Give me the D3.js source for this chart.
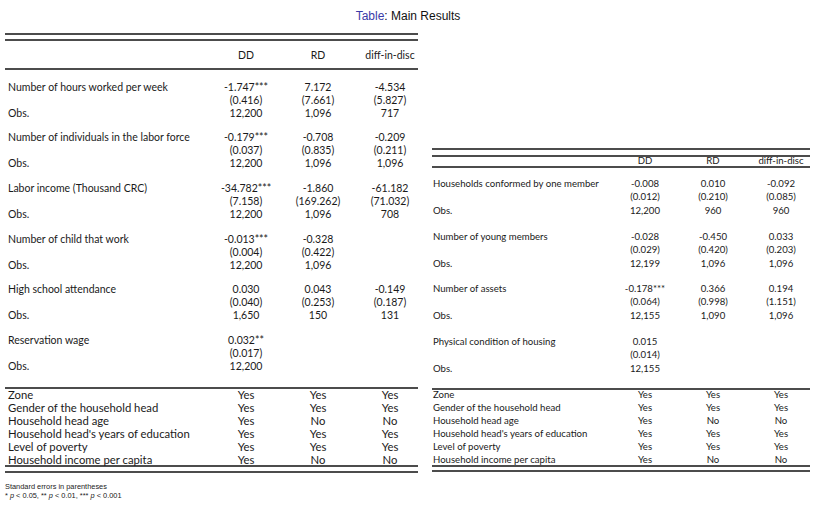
<!DOCTYPE html>
<html>
<head>
<meta charset="utf-8">
<script src="https://cdn.jsdelivr.net/npm/d3@7"></script>
<style>
  body { margin: 0; background: #fff; }
  svg { display: block; }
</style>
</head>
<body>
<script>
// column names
var columns = ["DD", "RD", "diff-in-disc"];

// left table: labour outcomes
var leftRows = ["Number of hours worked per week", "Number of individuals in the labor force",
  "Labor income (Thousand CRC)", "Number of child that work", "High school attendance", "Reservation wage"];
var leftCoef = [[-1.747, 7.172, -4.534], [-0.179, -0.708, -0.209], [-34.782, -1.860, -61.182],
  [-0.013, -0.328, null], [0.030, 0.043, -0.149], [0.032, null, null]];
var leftStars = [["***", "", ""], ["***", "", ""], ["***", "", ""], ["***", "", ""], ["", "", ""], ["**", "", ""]];
var leftSE = [[0.416, 7.661, 5.827], [0.037, 0.835, 0.211], [7.158, 169.262, 71.032],
  [0.004, 0.422, null], [0.040, 0.253, 0.187], [0.017, null, null]];
var leftObs = [[12200, 1096, 717], [12200, 1096, 1096], [12200, 1096, 708],
  [12200, 1096, null], [1650, 150, 131], [12200, null, null]];

// right table: household outcomes
var rightRows = ["Households conformed by one member", "Number of young members",
  "Number of assets", "Physical condition of housing"];
var rightCoef = [[-0.008, 0.010, -0.092], [-0.028, -0.450, 0.033], [-0.178, 0.366, 0.194], [0.015, null, null]];
var rightStars = [["", "", ""], ["", "", ""], ["***", "", ""], ["", "", ""]];
var rightSE = [[0.012, 0.210, 0.085], [0.029, 0.420, 0.203], [0.064, 0.998, 1.151], [0.014, null, null]];
var rightObs = [[12200, 960, 960], [12199, 1096, 1096], [12155, 1090, 1096], [12155, null, null]];

// controls (same in both tables)
var controls = ["Zone", "Gender of the household head", "Household head age",
  "Household head's years of education", "Level of poverty", "Household income per capita"];
var controlYes = [["Yes", "Yes", "Yes"], ["Yes", "Yes", "Yes"], ["Yes", "No", "No"],
  ["Yes", "Yes", "Yes"], ["Yes", "Yes", "Yes"], ["Yes", "No", "No"]];

var notes = ["Standard errors in parentheses"];

var W = 824, H = 512;
var svg = d3.select("body").append("svg").attr("width", W).attr("height", H);

var fmt3 = d3.format(".3f"), fmtN = d3.format(",");
function coefText(v, s) { return v == null ? "" : fmt3(v).replace("−", "-") + s; }
function seText(v) { return v == null ? "" : "(" + fmt3(v) + ")"; }
function obsText(v) { return v == null ? "" : fmtN(v); }

// title
var title = svg.append("text").attr("x", 408).attr("y", 20).attr("text-anchor", "middle")
  .style("font-family", "Liberation Sans, Arial").style("font-size", "12px");
title.append("tspan").attr("fill", "#3a3aa8").text("Table");
title.append("tspan").attr("fill", "#111").text(": Main Results");

function drawTable(o) {
  var g = svg.append("g").style("font-family", "Lato, Calibri, sans-serif").attr("fill", "#1a1a1a");
  var x = d3.scalePoint().domain(columns).range(o.colRange);
  var y = d3.scaleLinear().domain([0, 1]).range([o.firstRow, o.firstRow + o.rowStep]);
  var yc = d3.scaleLinear().domain([0, 1]).range([o.ctrlTop, o.ctrlTop + o.ctrlStep]);
  // centre of a line of text -> alphabetic baseline
  function bl(yy, fs) { return yy + fs * 0.36; }

  function hline(yy) {
    g.append("line").attr("x1", o.x0).attr("x2", o.x1).attr("y1", yy).attr("y2", yy)
      .attr("stroke", "#111").attr("stroke-width", 1.4);
  }
  o.lines.forEach(hline);

  // header
  g.selectAll("text.head").data(columns).enter().append("text").attr("class", "head")
    .attr("x", function(d) { return x(d); }).attr("y", bl(o.headY, o.fs))
    .attr("text-anchor", "middle")
    .style("font-size", o.fs + "px").text(function(d) { return d; });

  o.rows.forEach(function(name, i) {
    var yy = y(i);
    var row = g.append("g");
    row.append("text").attr("x", o.labelX).attr("y", bl(yy, o.fs))
      .style("font-size", o.fs + "px").text(name);
    row.append("text").attr("x", o.labelX).attr("y", bl(yy + o.obsOff, o.fs))
      .style("font-size", o.fs + "px").text("Obs.");
    columns.forEach(function(c, j) {
      var cells = [[coefText(o.coef[i][j], o.stars[i][j]), 0],
        [seText(o.se[i][j]), o.seOff], [obsText(o.obs[i][j]), o.obsOff]];
      cells.forEach(function(cell) {
        row.append("text").attr("x", x(c)).attr("y", bl(yy + cell[1], o.fs))
          .attr("text-anchor", "middle")
          .style("font-size", o.fs + "px").text(cell[0]);
      });
    });
  });

  controls.forEach(function(name, i) {
    g.append("text").attr("x", o.labelX).attr("y", bl(yc(i), o.cfs))
      .style("font-size", o.cfs + "px").text(name);
    columns.forEach(function(c, j) {
      g.append("text").attr("x", x(c)).attr("y", bl(yc(i), o.cfs)).attr("text-anchor", "middle")
        .style("font-size", o.cfs + "px").text(controlYes[i][j]);
    });
  });
}

drawTable({
  x0: 5, x1: 418, labelX: 8, colRange: [246, 390], fs: 10.5, cfs: 11.3,
  lines: [34, 40, 69, 388, 466, 472], headY: 55,
  firstRow: 87, rowStep: 50.6, seOff: 13, obsOff: 26,
  ctrlTop: 395, ctrlStep: 12.9,
  rows: leftRows, coef: leftCoef, stars: leftStars, se: leftSE, obs: leftObs
});

drawTable({
  x0: 432, x1: 810, labelX: 433, colRange: [645, 781], fs: 9.6, cfs: 9.6,
  lines: [149, 156, 167, 389, 466, 471], headY: 161,
  firstRow: 184, rowStep: 52.4, seOff: 13, obsOff: 27,
  ctrlTop: 395, ctrlStep: 13,
  rows: rightRows, coef: rightCoef, stars: rightStars, se: rightSE, obs: rightObs
});

// footnotes
var foot = svg.append("g").style("font-family", "Liberation Sans, Arial").style("font-size", "7.4px").attr("fill", "#222");
foot.append("text").attr("x", 5).attr("y", 489).text(notes[0]);
var f2 = foot.append("text").attr("x", 5).attr("y", 498);
[["* ", false], ["p", true], [" < 0.05, ** ", false], ["p", true], [" < 0.01, *** ", false], ["p", true], [" < 0.001", false]]
  .forEach(function(p) { f2.append("tspan").style("font-style", p[1] ? "italic" : "normal").text(p[0]); });
</script>
</body>
</html>
